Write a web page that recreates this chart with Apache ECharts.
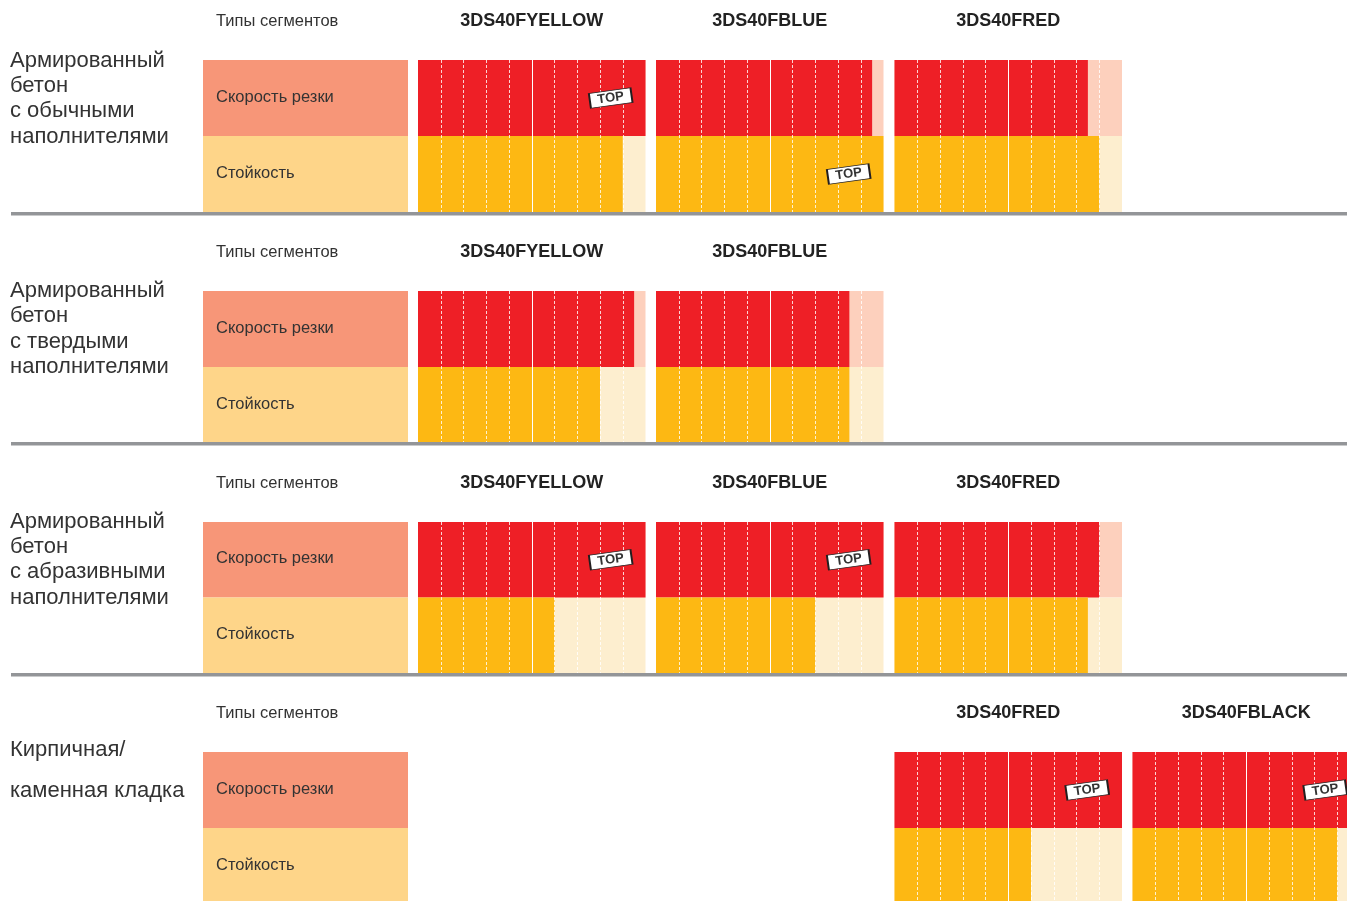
<!DOCTYPE html>
<html>
<head>
<meta charset="utf-8">
<style>
    html, body { margin: 0; padding: 0; background: #fff; overflow: hidden; }
    /* last column and row run past the edge of the picture, as in the original */
    #main { width: 1360px; height: 910px; }
</style>
</head>
<body>
<div id="main"></div>
<script src="https://cdn.jsdelivr.net/npm/echarts@6/dist/echarts.min.js"></script>
<script>
// data (scale is 10 segments per bar)
var products = ['3DS40FYELLOW', '3DS40FBLUE', '3DS40FRED', '3DS40FBLACK'];
var metrics = ['Скорость резки', 'Стойкость'];
var headerLabel = 'Типы сегментов';
var materials = [
    'Армированный\nбетон\nс обычными\nнаполнителями',
    'Армированный\nбетон\nс твердыми\nнаполнителями',
    'Армированный\nбетон\nс абразивными\nнаполнителями',
    'Кирпичная/\nкаменная кладка'
];
var scaleMax = 10;

var speed1 = [10, 9.5, 8.5, null];
var speed2 = [9.5, 8.5, null, null];
var speed3 = [10, 10, 9, null];
var speed4 = [null, null, 10, 10];
var wear1 = [9, 10, 9, null];
var wear2 = [8, 8.5, null, null];
var wear3 = [6, 7, 8.5, null];
var wear4 = [null, null, 6, 9];
// which metric carries the TOP badge, per product (0 speed, 1 wear)
var top1 = [0, 1, null, null];
var top2 = [null, null, null, null];
var top3 = [0, 0, null, null];
var top4 = [null, null, 0, 0];

var speeds = [speed1, speed2, speed3, speed4];
var wears = [wear1, wear2, wear3, wear4];
var tops = [top1, top2, top3, top4];

// layout
var sectionTop = [60, 291, 522, 752];
var sectionHeight = [152, 152, 151, 152];
var materialMiddle = [98.5, 329, 559.5, 770];
var materialLine = [25.3, 25.2, 25.3, 41];
var ruleY = [212, 442, 673];
var columnLeft = [418, 656, 894.5, 1132.5];
var columnWidth = 227.5;
var topAt = 8.47;

var RED = '#ee1f26', RED_PALE = '#fdd0bd', RED_LABEL = '#f79678';
var ORANGE = '#fdb813', ORANGE_PALE = '#fdeecf', ORANGE_LABEL = '#fed589';
var TEXT = '#333333';
var FONT = '"Liberation Sans", Arial, sans-serif';

var grids = [], xAxes = [], yAxes = [], series = [], titles = [], shapes = [];

function addGrid(left, width, top, height) {
    grids.push({ left: left, width: width, top: top, height: height, containLabel: false });
    return grids.length - 1;
}

function hiddenY(g) {
    yAxes.push({
        gridIndex: g, type: 'category', inverse: true, data: metrics,
        axisLine: { show: false }, axisTick: { show: false }, axisLabel: { show: false }, splitLine: { show: false }
    });
    return yAxes.length - 1;
}

function scaleAxis(g, interval, lineType, opacity) {
    xAxes.push({
        gridIndex: g, type: 'value', min: 0, max: scaleMax, interval: interval, z: 5,
        axisLine: { show: false }, axisTick: { show: false }, axisLabel: { show: false },
        splitLine: {
            show: true, showMinLine: false, showMaxLine: false,
            lineStyle: { color: '#ffffff', width: 1, type: lineType, opacity: opacity }
        }
    });
    return xAxes.length - 1;
}

materials.forEach(function (material, s) {
    var top = sectionTop[s], height = sectionHeight[s];

    titles.push({
        text: material, left: 10, top: materialMiddle[s], textVerticalAlign: 'middle',
        padding: 0,
        textStyle: { fontFamily: FONT, fontWeight: 'normal', fontSize: 22, color: TEXT, lineHeight: materialLine[s] }
    });
    titles.push({
        text: headerLabel, left: 216, top: top - 38.5, textVerticalAlign: 'middle', padding: 0,
        textStyle: { fontFamily: FONT, fontWeight: 'normal', fontSize: 16.5, color: TEXT }
    });

    // metric blocks on the left
    var lg = addGrid(203, 205, top, height);
    xAxes.push({ gridIndex: lg, type: 'value', min: 0, max: 1, show: false });
    series.push({
        type: 'bar', xAxisIndex: xAxes.length - 1, yAxisIndex: hiddenY(lg), barCategoryGap: 0, silent: true,
        data: [
            { value: 1, itemStyle: { color: RED_LABEL } },
            { value: 1, itemStyle: { color: ORANGE_LABEL } }
        ],
        label: {
            show: true, position: 'insideLeft', distance: 13, offset: [0, -1],
            formatter: function (p) { return metrics[p.dataIndex]; },
            fontFamily: FONT, fontSize: 16.5, color: TEXT
        }
    });

    products.forEach(function (product, p) {
        if (speeds[s][p] === null) return;

        titles.push({
            text: product, left: columnLeft[p] + columnWidth / 2, top: top - 38.5,
            textAlign: 'center', textVerticalAlign: 'middle', padding: 0,
            textStyle: { fontFamily: FONT, fontWeight: 'bold', fontSize: 18, color: '#222222' }
        });

        var g = addGrid(columnLeft[p], columnWidth, top, height);
        var x = scaleAxis(g, 1, [3, 2], 0.8);
        scaleAxis(g, 5, 'solid', 1);
        var y = hiddenY(g);

        // pale full-scale bars behind
        series.push({
            type: 'bar', xAxisIndex: x, yAxisIndex: y, barCategoryGap: 0, barGap: '-100%', silent: true,
            data: [
                { value: scaleMax, itemStyle: { color: RED_PALE } },
                { value: scaleMax, itemStyle: { color: ORANGE_PALE } }
            ]
        });

        var bar = {
            type: 'bar', xAxisIndex: x, yAxisIndex: y, barCategoryGap: 0, barGap: '-100%', silent: true,
            data: [
                { value: speeds[s][p], itemStyle: { color: RED } },
                { value: wears[s][p], itemStyle: { color: ORANGE } }
            ]
        };
        if (tops[s][p] !== null) {
            bar.markPoint = {
                silent: true, z: 10, animation: false,
                symbol: 'rect', symbolSize: [42, 15], symbolRotate: 8,
                itemStyle: { color: '#ffffff', borderColor: '#231f20', borderWidth: 1.2 },
                label: {
                    show: true, position: 'inside', rotate: 8, formatter: 'TOP',
                    fontFamily: FONT, fontWeight: 'bold', fontSize: 13, color: '#333333'
                },
                data: [{ coord: [topAt, metrics[tops[s][p]]] }]
            };
        }
        series.push(bar);
    });
});

ruleY.forEach(function (y) {
    shapes.push({
        type: 'rect', left: 11, top: y, z: 20,
        shape: { width: 1336, height: 3.5 },
        style: { fill: '#939598' }
    });
});

var myChart = echarts.init(document.getElementById('main'));
myChart.setOption({
    animation: false,
    backgroundColor: '#ffffff',
    title: titles,
    grid: grids,
    xAxis: xAxes,
    yAxis: yAxes,
    series: series,
    graphic: shapes
});
</script>
</body>
</html>
